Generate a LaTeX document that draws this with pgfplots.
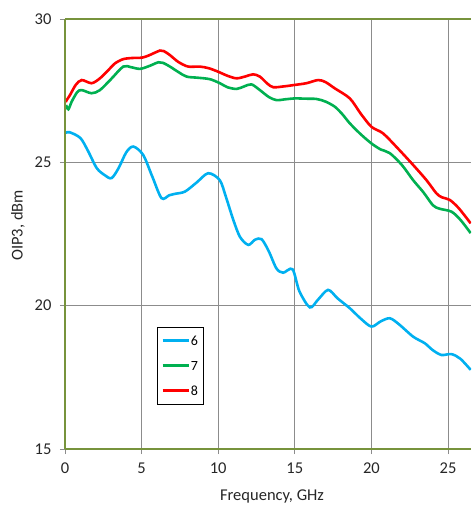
\documentclass[border=0pt]{standalone}
\usepackage{fontspec}
\setmainfont{Carlito}
\usepackage{pgfplots}
\pgfplotsset{compat=1.18}
\definecolor{oliveline}{HTML}{77933C}
\definecolor{gridgray}{RGB}{140,140,140}
\definecolor{sblue}{HTML}{00B0F0}
\definecolor{sgreen}{HTML}{00B050}
\definecolor{sred}{HTML}{FF0000}
\begin{document}
\begin{tikzpicture}
\begin{axis}[
  scale only axis, width=406pt, height=430pt,
  xmin=0, xmax=26.5, ymin=15, ymax=30,
  xtick={0,5,...,25}, ytick={15,20,25,30},
  grid=major, grid style={gridgray, line width=0.8pt},
  axis line style={draw=none},
  tick style={gridgray, line width=0.8pt},
  major tick length=5pt, tick align=outside,
  xtick pos=bottom, ytick pos=left,
  /pgf/number format/assume math mode=true,
  ticklabel style={font=\fontsize{16.5}{19}\selectfont, text=black!85},
  yticklabel style={xshift=-5pt},
  xticklabel style={yshift=-5pt},
  xlabel={Frequency, GHz}, ylabel={OIP3, dBm},
  label style={font=\fontsize{16.5}{19}\selectfont, text=black!85},
  xlabel style={at={(axis description cs:0.51,-0.1186)}, anchor=base},
  ylabel style={at={(axis description cs:-0.1158,0.52)}, anchor=center},
  clip mode=individual,
  legend style={at={(axis cs:6,19.26)}, anchor=north west, draw=black, line width=0.6pt,
    fill=white, font=\fontsize{14}{15}\selectfont, inner xsep=4pt, inner ysep=7pt,
    row sep=12pt, nodes={inner xsep=1pt, inner ysep=2pt, text height=9pt, text depth=0pt}},
  legend cell align=left,
  legend image code/.code={\draw[#1] (0pt,0pt) -- (26pt,0pt);},
  every axis plot/.append style={line width=2.6pt, smooth, tension=0.5, no markers},
]
\addplot[sblue] coordinates {
(0.05,26.03) (0.3,26.05) (1.0,25.85) (1.5,25.4) (2.07,24.8) (2.6,24.55) (3.04,24.45)
(3.5,24.8) (4.0,25.35) (4.46,25.55) (5.1,25.26) (5.7,24.5) (6.3,23.75) (6.8,23.85)
(7.17,23.9) (7.83,23.98) (8.6,24.3) (9.35,24.62) (10.1,24.38) (10.5,23.8) (10.98,23.0)
(11.42,22.4) (11.96,22.12) (12.4,22.3) (12.83,22.32) (13.3,21.9) (13.8,21.3) (14.24,21.15)
(14.85,21.27) (15.3,20.5) (15.98,19.94) (16.5,20.2) (17.17,20.55) (17.8,20.25) (18.59,19.91)
(19.3,19.55) (20.0,19.27) (20.6,19.45) (21.2,19.56) (21.8,19.35) (22.72,18.92) (23.48,18.69)
(24.0,18.45) (24.57,18.28) (25.22,18.31) (25.8,18.15) (26.48,17.76)
};
\addlegendentry{6}
\addplot[sgreen] coordinates {
(0.07,27.0) (0.22,26.85) (0.44,27.12) (0.8,27.45) (1.09,27.52) (1.74,27.41) (2.28,27.52)
(3.0,27.9) (3.8,28.34) (4.3,28.32) (4.89,28.26) (5.5,28.36) (6.09,28.49) (6.4,28.47)
(6.85,28.34) (7.4,28.15) (7.94,27.99) (8.7,27.95) (9.46,27.9) (10.11,27.76) (10.6,27.62)
(11.2,27.56) (11.7,27.65) (12.17,27.72) (12.72,27.52) (13.3,27.28) (13.8,27.17) (14.4,27.2)
(15.0,27.23) (15.7,27.22) (16.41,27.21) (17.0,27.12) (17.61,26.94) (18.1,26.68) (18.59,26.36)
(19.3,25.98) (20.0,25.66) (20.6,25.45) (21.2,25.32) (22.0,24.9) (22.72,24.38) (23.4,23.95)
(24.02,23.5) (24.46,23.38) (25.22,23.28) (25.8,23.0) (26.48,22.53)
};
\addlegendentry{7}
\addplot[sred] coordinates {
(0.05,27.1) (0.11,27.17) (0.33,27.35) (0.7,27.7) (1.09,27.87) (1.74,27.76) (2.28,27.93)
(2.8,28.2) (3.26,28.45) (3.8,28.6) (4.4,28.64) (5.0,28.65) (5.43,28.72) (6.2,28.9)
(6.45,28.88) (6.85,28.74) (7.4,28.5) (8.04,28.34) (8.8,28.34) (9.4,28.28) (10.0,28.16)
(10.6,28.02) (11.2,27.93) (11.8,28.0) (12.28,28.07) (12.72,27.99) (13.2,27.75) (13.59,27.62)
(14.3,27.65) (15.0,27.7) (15.76,27.76) (16.52,27.87) (17.0,27.8) (17.61,27.58) (18.59,27.23)
(19.3,26.7) (20.0,26.24) (20.76,26.01) (21.7,25.5) (22.72,24.91) (23.59,24.38) (24.24,23.92)
(24.6,23.78) (25.11,23.69) (25.7,23.4) (26.48,22.87)
};
\addlegendentry{8}
\draw[oliveline, line width=2.5pt] (rel axis cs:0,0) -- (rel axis cs:1,0);
\draw[oliveline, line width=2.5pt] (rel axis cs:0,1) -- (rel axis cs:1,1);
\draw[oliveline, line width=2.5pt] (rel axis cs:0,0) -- (rel axis cs:0,1);
\end{axis}
\pgfresetboundingbox
\useasboundingbox (-65pt,-59pt) rectangle (406pt,449pt);
\end{tikzpicture}
\end{document}
